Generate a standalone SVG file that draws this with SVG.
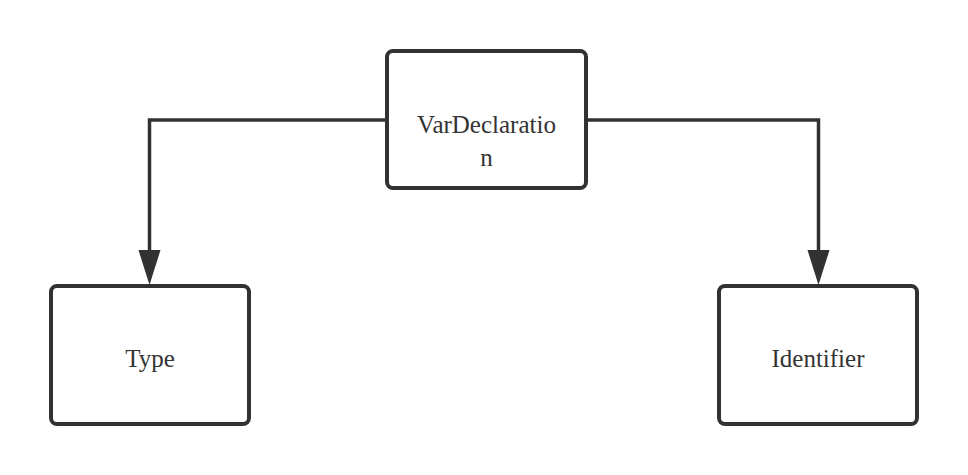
<svg xmlns="http://www.w3.org/2000/svg" width="968" height="475" viewBox="0 0 968 475">
<style>
.box{fill:#fff;stroke:#323232;stroke-width:4}
.lbl{font-family:"Liberation Serif",serif;font-size:25px;fill:#333;text-anchor:middle}
.edge{fill:none;stroke:#323232;stroke-width:3.5}
.head{fill:#323232}
</style>
<rect width="968" height="475" fill="#fff"/>
<g id="connectors">
<path class="edge" d="M387,120 H149.5 V252"/>
<polygon class="head" points="138.5,250 160.5,250 149.5,285"/>
<path class="edge" d="M587,120 H818.5 V252"/>
<polygon class="head" points="807.5,250 829.5,250 818.5,285"/>
</g>
<g id="VarDeclaration">
<rect class="box" x="387" y="51" width="199" height="137" rx="6"/>
<text class="lbl" x="486.5" y="133">VarDeclaratio</text>
<text class="lbl" x="486.5" y="166">n</text>
</g>
<g id="Type">
<rect class="box" x="51" y="286" width="198" height="138" rx="6"/>
<text class="lbl" x="150" y="367">Type</text>
</g>
<g id="Identifier">
<rect class="box" x="719" y="286" width="198" height="138" rx="6"/>
<text class="lbl" x="818" y="367">Identifier</text>
</g>
</svg>
